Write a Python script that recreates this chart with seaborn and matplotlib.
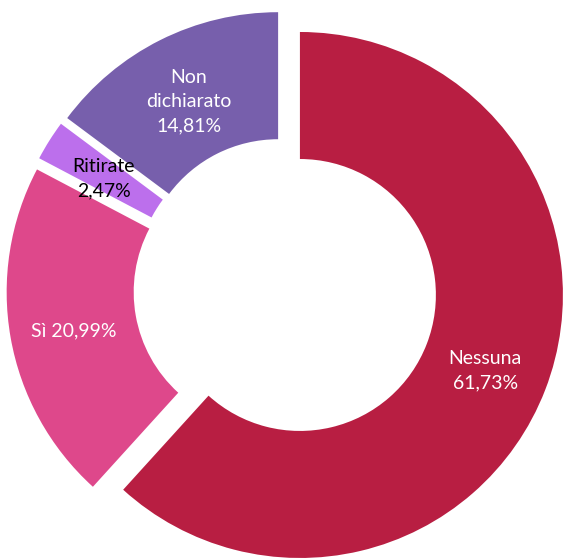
import numpy as np
import matplotlib
matplotlib.use("Agg")
import matplotlib.pyplot as plt
import seaborn as sns

# Risposte e percentuali
categories = ["Nessuna", "Sì", "Ritirate", "Non dichiarato"]
values = [61.73, 20.99, 2.47, 14.81]
label_texts = ["Nessuna\n61,73%", "Sì 20,99%", "Ritirate\n2,47%", "Non\ndichiarato\n14,81%"]
colors = ["#B81E42", "#DE488B", "#BC6FEC", "#775FAC"]
text_colors = ["white", "white", "black", "white"]

sns.set_theme(style="white")
plt.rcParams["font.family"] = ["Lato", "DejaVu Sans"]

fig = plt.figure(figsize=(5.65, 5.59), dpi=100)
ax = fig.add_axes([0, 0, 1, 1])
ax.set_axis_off()

wedges, _ = ax.pie(
    values,
    colors=sns.color_palette(colors),
    startangle=90,
    counterclock=False,
    radius=1.0,
    explode=[0.06] * len(values),
    wedgeprops=dict(width=0.483, linewidth=0),
)

# Etichette al centro di ogni settore
for w, txt, tc in zip(wedges, label_texts, text_colors):
    mid = np.deg2rad((w.theta1 + w.theta2) / 2)
    cx, cy = w.center
    ax.text(cx + 0.755 * np.cos(mid), cy + 0.755 * np.sin(mid) - 0.015, txt,
            ha="center", va="center", color=tc, fontsize=14,
            linespacing=1.5)

ax.set_xlim(-1.0844, 1.0639)
ax.set_ylim(-1.0255, 1.1)
ax.set_aspect("auto")

fig.savefig("out.png", dpi=100, facecolor="white")
